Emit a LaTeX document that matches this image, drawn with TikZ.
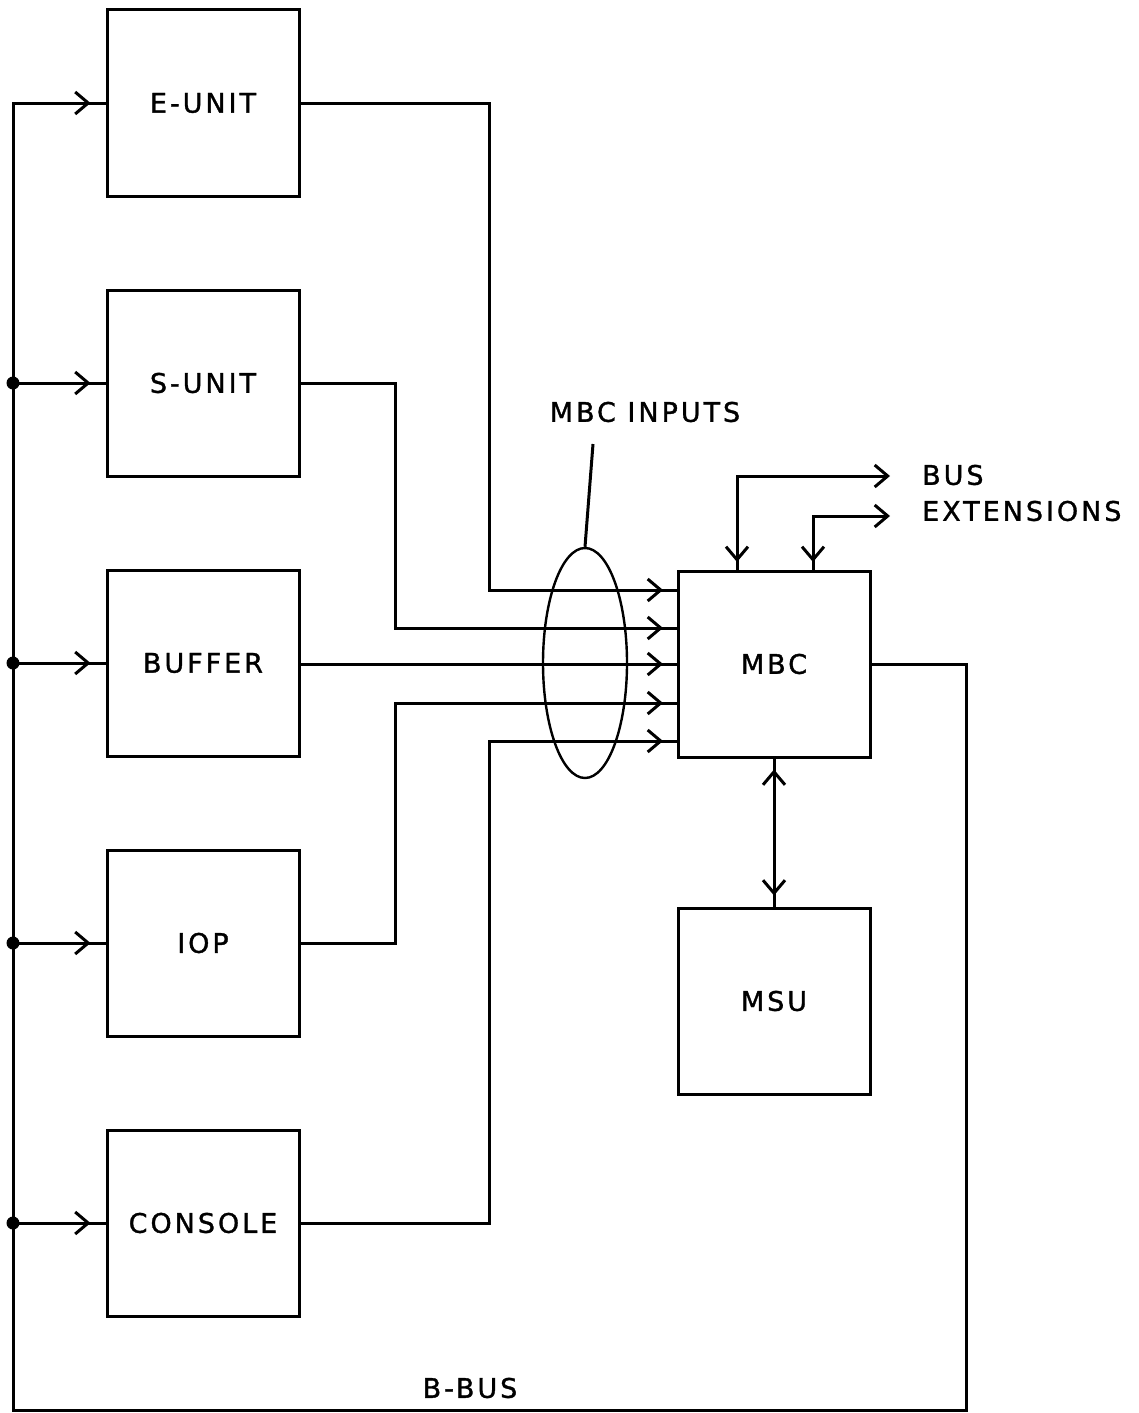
\documentclass[tikz,border=0pt]{standalone}
\usepackage{fontspec}
\setmainfont{DejaVu Sans}[LetterSpace=11,FakeBold=1.2]
\usetikzlibrary{arrows.meta,decorations.markings,shapes.geometric}
\tikzset{
  >={Straight Barb[length=13pt,width=22pt]},
  box/.style={draw, line width=3pt, minimum width=192pt, minimum height=186pt, inner sep=0pt, font=\fontsize{27}{30}\selectfont},
  wire/.style={line width=3pt},
  lbl/.style={inner sep=0pt, font=\fontsize{27}{30}\selectfont},
  inarrow/.style={postaction={decorate}, decoration={markings, mark=at position -15pt with {\arrow{>}}}},
  startarrow/.style={postaction={decorate}, decoration={markings, mark=at position 15pt with {\arrowreversed{>}}}},
  downarrow/.style={postaction={decorate}, decoration={markings, mark=at position 9pt with {\arrowreversed{>}}}},
  bothmid/.style={postaction={decorate}, decoration={markings, mark=at position 11pt with {\arrowreversed{>}}, mark=at position -11pt with {\arrow{>}}}},
  dot/.style={circle, fill, inner sep=0pt, minimum size=13pt}
}
\begin{document}
\begin{tikzpicture}[x=1pt,y=-1pt]
\useasboundingbox (0,0) rectangle (1138,1413);
% unit boxes
\node[box] (eu) at (203,103) {E-UNIT};
\node[box] (su) at (203,383) {S-UNIT};
\node[box] (bu) at (203,663) {BUFFER};
\node[box] (io) at (203,943) {IOP};
\node[box] (co) at (203,1223) {CONSOLE};
\node[box] (mbc) at (774,664) {MBC};
\node[box] (msu) at (774,1001) {MSU};
% B-bus
\coordinate (bTL) at (13,103);
\coordinate (bBL) at (13,1410);
\coordinate (bBR) at (966,1410);
\draw[wire, line join=miter, startarrow] (eu.west) -- (bTL) -- (bBL) -- (bBR) |- (mbc.east);
\coordinate (j2) at (bTL |- su.west);
\coordinate (j3) at (bTL |- bu.west);
\coordinate (j4) at (bTL |- io.west);
\coordinate (j5) at (bTL |- co.west);
\draw[wire, inarrow] (j2) -- (su.west);
\draw[wire, inarrow] (j3) -- (bu.west);
\draw[wire, inarrow] (j4) -- (io.west);
\draw[wire, inarrow] (j5) -- (co.west);
\foreach \j in {j2,j3,j4,j5} \node[dot] at (\j) {};
% MBC inputs
\coordinate (in1) at (678,590);
\coordinate (in2) at (678,628);
\coordinate (in3) at (678,664);
\coordinate (in4) at (678,703);
\coordinate (in5) at (678,741);
\draw[wire, inarrow] (eu.east) -- (489,103) |- (in1);
\draw[wire, inarrow] (su.east) -- (395,383) |- (in2);
\draw[wire, inarrow] (bu.east |- in3) -- (in3);
\draw[wire, inarrow] (io.east) -- (395,943) |- (in4);
\draw[wire, inarrow] (co.east) -- (489,1223) |- (in5);
% ellipse and its label
\node[draw, ellipse, line width=2.4pt, minimum width=84pt, minimum height=230pt, inner sep=0pt] (ell) at (585,663) {};
\node[lbl] (tIn) at (645,412) {MBC INPUTS};
\coordinate (lead) at (593,444);
\draw[wire] (ell.north) -- (lead);
% bus extensions
\coordinate (x1) at (737,571);
\coordinate (x2) at (813,571);
\coordinate (o1) at (890,476);
\coordinate (o2) at (890,516);
\draw[wire, ->, downarrow] (x1) |- (o1);
\draw[wire, ->, downarrow] (x2) |- (o2);
\node[lbl, anchor=west] (tBus) at (922,475) {BUS};
\node[lbl, anchor=west] (tExt) at (922,511) {EXTENSIONS};
% MBC - MSU
\draw[wire, bothmid] (mbc.south) -- (msu.north);
% B-BUS label
\node[lbl] (tB) at (470,1388) {B-BUS};
\end{tikzpicture}
\end{document}
